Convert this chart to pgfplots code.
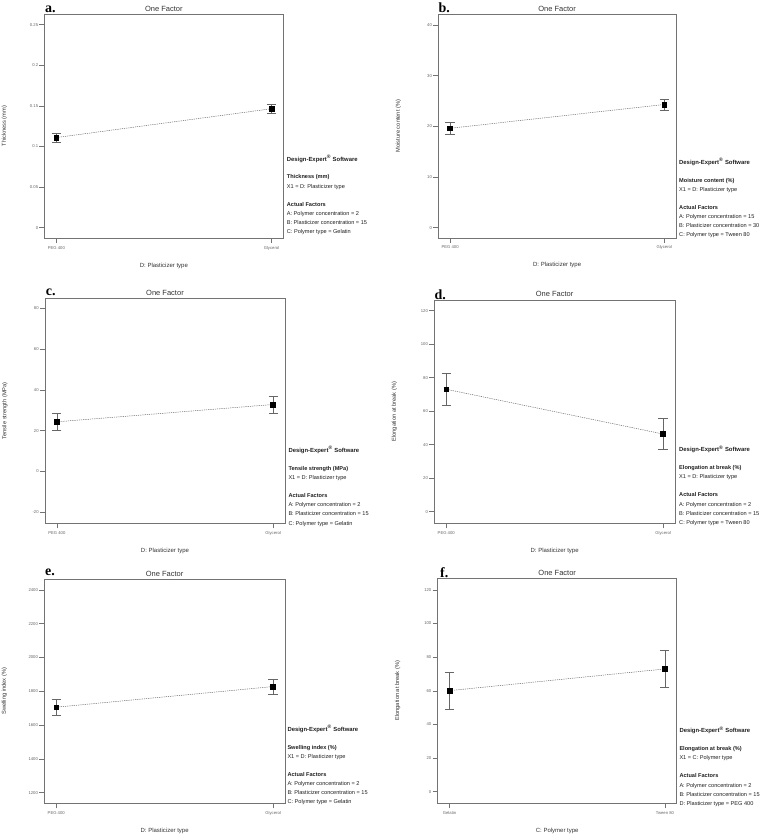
\documentclass[border=0pt]{standalone}
\usepackage{fontspec}
\setmainfont{Liberation Sans}
\newfontfamily\serifbold{Liberation Serif}
\usepackage{pgfplots}
\pgfplotsset{compat=1.18}
\pgfplotsset{dx/.style={
  scale only axis, anchor=south west,
  axis line style={black!55, line width=0.6pt},
  tick align=outside, major tick length=5pt,
  tick style={black!55, line width=0.5pt},
  xtick pos=left, ytick pos=left,
  xmin=-0.055, xmax=1.055, xtick={0,1},
  /pgf/number format/assume math mode=true,
  tick label style={font=\fontsize{4.2}{5}\selectfont, text=black!60},
  yticklabel style={inner sep=1.2pt},
  xticklabel style={inner sep=1.2pt, yshift=-1.5pt},
  every axis title shift=0pt,
  title style={font=\fontsize{7.5}{9}\selectfont, text=black!80, at={([yshift=5.7pt]axis description cs:0.5,1)}, anchor=center, inner sep=0pt},
  xlabel style={font=\fontsize{6}{7}\selectfont, text=black!80, at={([yshift=-27.4pt]axis description cs:0.5,0)}, anchor=center, inner sep=0pt},
  ylabel style={font=\fontsize{5.7}{7}\selectfont, text=black!80, at={([xshift=-40pt]axis description cs:0,0.5)}, anchor=center, inner sep=0pt},
  title={One Factor},
}}
\pgfplotsset{dline/.style={black!60, line width=0.5pt, dash pattern=on 1.2pt off 1pt,
  mark=square*, mark size=2.4pt, mark options={solid, fill=black, draw=black},
  error bars/.cd, y dir=both, y explicit,
  error bar style={solid, black!60, line width=0.5pt},
  error mark options={rotate=90, solid, black!60, mark size=4.6pt, line width=0.5pt}}}
\newcommand\infoline[4]{\node[anchor=base west, inner sep=0pt, text=black!88, font=#3] at (#1pt,{(835-(#2)-2)*1pt}) {#4};}
\newcommand\infoblock[7]{%
  \infoline{#1}{#2}{\bfseries\fontsize{5.9}{7}\selectfont}{Design-Expert\textsuperscript{\tiny®} Software}
  \infoline{#1}{#2+17.8}{\bfseries\fontsize{5.6}{7}\selectfont}{#3}
  \infoline{#1}{#2+26.9}{\fontsize{5.6}{7}\selectfont}{#4}
  \infoline{#1}{#2+45}{\bfseries\fontsize{5.6}{7}\selectfont}{Actual Factors}
  \infoline{#1}{#2+54.2}{\fontsize{5.6}{7}\selectfont}{#5}
  \infoline{#1}{#2+63.4}{\fontsize{5.6}{7}\selectfont}{#6}
  \infoline{#1}{#2+72.6}{\fontsize{5.6}{7}\selectfont}{#7}}
\newcommand\plabel[3]{\node[anchor=base west, inner sep=0pt, font=\serifbold\bfseries\fontsize{14}{14}\selectfont] at (#1pt,{(835-#2)*1pt}) {#3};}
\begin{document}
\begin{tikzpicture}[x=1pt,y=1pt]
\useasboundingbox (0,0) rectangle (763,835);

% ---- a
\begin{axis}[dx, at={(44.5pt,596.8pt)}, width=238.8pt, height=224pt,
  ymin=-0.013, ymax=0.263, ytick={0,0.05,0.1,0.15,0.2,0.25},
  yticklabels={0,0.05,0.1,0.15,0.2,0.25}, xticklabels={PEG 400,Glycerol},
  xlabel={D: Plasticizer type}, ylabel={Thickness (mm)}]
\addplot[dline] coordinates {(0,0.111) +- (0,0.0055) (1,0.1465) +- (0,0.0055)};
\end{axis}
\plabel{45}{12.3}{a.}
\infoblock{286.7}{159.2}{Thickness (mm)}{X1 = D: Plasticizer type}{A: Polymer concentration = 2}{B: Plasticizer concentration = 15}{C: Polymer type = Gelatin}

% ---- b
\begin{axis}[dx, at={(438.3pt,597pt)}, width=237.7pt, height=223.7pt,
  ymin=-2.05, ymax=42.1, ytick={0,10,20,30,40},
  yticklabels={0,10,20,30,40}, xticklabels={PEG 400,Glycerol},
  xlabel={D: Plasticizer type}, ylabel={Moisture content (\%)}]
\addplot[dline] coordinates {(0,19.6) +- (0,1.1) (1,24.3) +- (0,1.1)};
\end{axis}
\plabel{438.3}{12.3}{b.}
\infoblock{679}{162.3}{Moisture content (\%)}{X1 = D: Plasticizer type}{A: Polymer concentration = 15}{B: Plasticizer concentration = 30}{C: Polymer type = Tween 80}

% ---- c
\begin{axis}[dx, at={(45pt,311.7pt)}, width=240pt, height=225pt,
  ymin=-25.5, ymax=84.9, ytick={-20,0,20,40,60,80},
  yticklabels={-20,0,20,40,60,80}, xticklabels={PEG 400,Glycerol},
  xlabel={D: Plasticizer type}, ylabel={Tensile strength (MPa)}]
\addplot[dline] coordinates {(0,24.3) +- (0,4.1) (1,32.8) +- (0,4.1)};
\end{axis}
\plabel{45.7}{295.7}{c.}
\infoblock{288.3}{450.5}{Tensile strength (MPa)}{X1 = D: Plasticizer type}{A: Polymer concentration = 2}{B: Plasticizer concentration = 15}{C: Polymer type = Gelatin}

% ---- d
\begin{axis}[dx, at={(434.3pt,311.7pt)}, width=240.7pt, height=223.3pt,
  ymin=-6.9, ymax=126.4, ytick={0,20,40,60,80,100,120},
  yticklabels={0,20,40,60,80,100,120}, xticklabels={PEG 400,Glycerol},
  xlabel={D: Plasticizer type}, ylabel={Elongation at break (\%)}]
\addplot[dline] coordinates {(0,73.1) +- (0,9.3) (1,46.4) +- (0,9.3)};
\end{axis}
\plabel{434.3}{300}{d.}
\infoblock{679}{450}{Elongation at break (\%)}{X1 = D: Plasticizer type}{A: Polymer concentration = 2}{B: Plasticizer concentration = 15}{C: Polymer type = Tween 80}

% ---- e
\begin{axis}[dx, at={(44.3pt,31.7pt)}, width=240.7pt, height=224pt,
  ymin=1137, ymax=2463, ytick={1200,1400,1600,1800,2000,2200,2400},
  yticklabels={1200,1400,1600,1800,2000,2200,2400}, xticklabels={PEG 400,Glycerol},
  xlabel={D: Plasticizer type}, ylabel={Swelling index (\%)}]
\addplot[dline] coordinates {(0,1706) +- (0,46) (1,1828) +- (0,46)};
\end{axis}
\plabel{45}{575.7}{e.}
\infoblock{287.3}{729.4}{Swelling index (\%)}{X1 = D: Plasticizer type}{A: Polymer concentration = 2}{B: Plasticizer concentration = 15}{C: Polymer type = Gelatin}

% ---- f
\begin{axis}[dx, at={(437.7pt,31.7pt)}, width=239pt, height=225pt,
  ymin=-6.9, ymax=126.9, ytick={0,20,40,60,80,100,120},
  yticklabels={0,20,40,60,80,100,120}, xticklabels={Gelatin,Tween 80},
  xlabel={C: Polymer type}, ylabel={Elongation at break (\%)}]
\addplot[dline] coordinates {(0,60.1) +- (0,10.8) (1,73.0) +- (0,10.9)};
\end{axis}
\plabel{440}{577.7}{f.}
\infoblock{679.3}{731}{Elongation at break (\%)}{X1 = C: Polymer type}{A: Polymer concentration = 2}{B: Plasticizer concentration = 15}{D: Plasticizer type = PEG 400}

\end{tikzpicture}
\end{document}
